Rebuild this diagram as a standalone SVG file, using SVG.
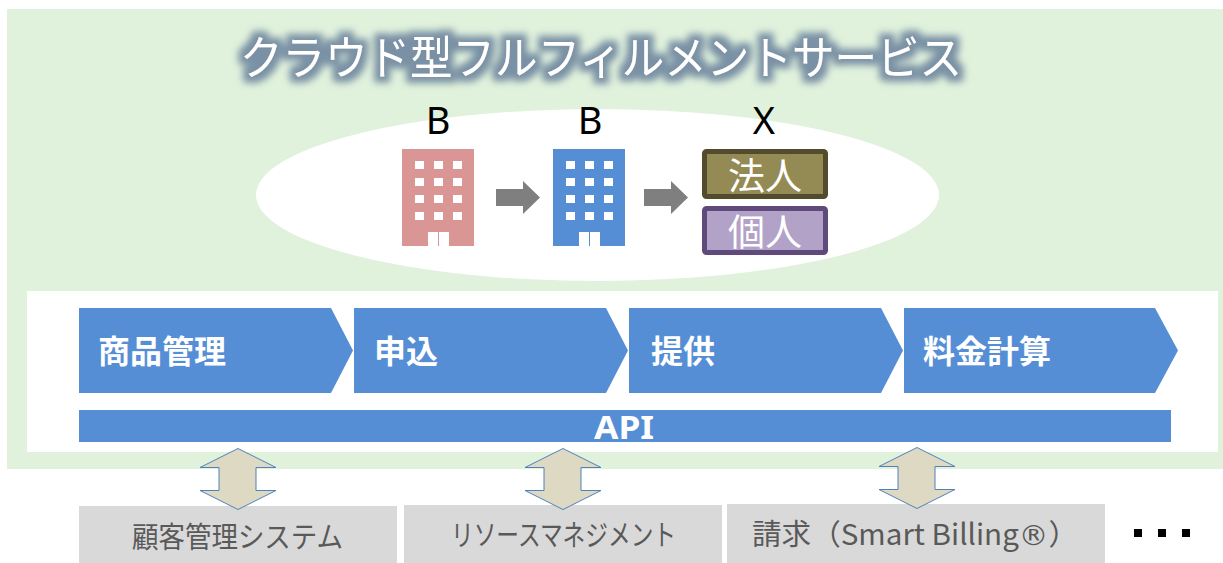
<svg xmlns="http://www.w3.org/2000/svg" width="1223" height="563" viewBox="0 0 1223 563">
<style>
.ja{font-family:"Noto Sans CJK JP","Noto Sans",sans-serif}
.step{fill:#558ed5}
.stept{font-size:32px;font-weight:700;fill:#fff}
.sys{fill:#d9d9d9}
.syst{font-size:29px;fill:#595959}
.letter{font-family:"Noto Sans","Liberation Sans",sans-serif;font-size:38px;fill:#000;text-anchor:middle}
.win{fill:#fff}
.dbl{fill:#ddd9c3;stroke:#4f81bd;stroke-width:1}
.flow{fill:#7f7f7f}
.role{font-size:37px;fill:#fff;text-anchor:middle}
</style>
<defs>
<filter id="glow" x="-5%" y="-40%" width="110%" height="180%">
<feMorphology in="SourceAlpha" operator="dilate" radius="6" result="d"/>
<feGaussianBlur in="d" stdDeviation="3.500" result="b"/>
<feFlood flood-color="#7a91a5" flood-opacity="1"/>
<feComposite in2="b" operator="in" result="g"/>
<feMerge><feMergeNode in="g"/><feMergeNode in="SourceGraphic"/></feMerge>
</filter>
<g id="windows">
<rect class="win" x="13" y="12" width="9" height="8"/><rect class="win" x="32" y="12" width="9" height="8"/><rect class="win" x="51" y="12" width="9" height="8"/>
<rect class="win" x="13" y="29" width="9" height="8"/><rect class="win" x="32" y="29" width="9" height="8"/><rect class="win" x="51" y="29" width="9" height="8"/>
<rect class="win" x="13" y="46" width="9" height="8"/><rect class="win" x="32" y="46" width="9" height="8"/><rect class="win" x="51" y="46" width="9" height="8"/>
<rect class="win" x="13" y="63" width="9" height="8"/><rect class="win" x="32" y="63" width="9" height="8"/><rect class="win" x="51" y="63" width="9" height="8"/>
<rect class="win" x="26" y="83" width="10" height="14"/><rect class="win" x="37" y="83" width="10" height="14"/>
</g>
</defs>
<rect width="1223" height="563" fill="#fff"/>
<g id="background">
<rect x="7" y="9" width="1216" height="460" fill="#e0f1dc"/>
<ellipse cx="597.500" cy="195" rx="341.500" ry="86" fill="#fff"/>
<rect x="27" y="291" width="1191" height="161" fill="#fff"/>
</g>
<g id="title"><text class="ja" x="240" y="74" font-size="46" fill="#fff" textLength="722" lengthAdjust="spacingAndGlyphs" filter="url(#glow)">クラウド型フルフィルメントサービス</text></g>
<g id="b1">
<text class="letter" x="438" y="134">B</text>
<rect x="402" y="149" width="72" height="97" fill="#d99694"/><use href="#windows" x="402" y="149"/>
</g>
<g id="b2">
<text class="letter" x="590" y="134">B</text>
<rect x="553" y="149" width="72" height="97" fill="#558ed5"/><use href="#windows" x="553" y="149"/>
</g>
<g id="x">
<text class="letter" x="764" y="134">X</text>
</g>
<g id="corporate">
<rect x="704.500" y="151.500" width="121" height="45" rx="2" fill="#948a54" stroke="#524b2d" stroke-width="5"/>
<text class="ja role" x="765" y="190">法人</text>
</g>
<g id="individual">
<rect x="704.500" y="208.500" width="121" height="44" rx="2" fill="#b2a2c7" stroke="#604a7b" stroke-width="5"/>
<text class="ja role" x="765" y="246">個人</text>
</g>
<g id="step1"><path class="step" d="M79 308H331L353 350.500L331 393H79Z"/><text class="ja stept" x="98" y="363">商品管理</text></g>
<g id="step2"><path class="step" d="M354 308H606L628 350.500L606 393H354Z"/><text class="ja stept" x="374" y="363">申込</text></g>
<g id="step3"><path class="step" d="M629 308H881L903 350.500L881 393H629Z"/><text class="ja stept" x="651" y="363">提供</text></g>
<g id="step4"><path class="step" d="M904 308H1155L1178 350.500L1155 393H904Z"/><text class="ja stept" x="923" y="363">料金計算</text></g>
<g id="api"><rect class="step" x="79" y="410" width="1092" height="32"/><text x="624" y="439" font-family="'Noto Sans','Liberation Sans',sans-serif" font-size="32" font-weight="700" fill="#fff" text-anchor="middle" textLength="60" lengthAdjust="spacingAndGlyphs">API</text></g>
<g id="sys1"><rect class="sys" x="79" y="506" width="318" height="57"/><text class="ja syst" x="132" y="548" textLength="211" lengthAdjust="spacingAndGlyphs">顧客管理システム</text></g>
<g id="sys2"><rect class="sys" x="404" y="505" width="318" height="58"/><text class="ja syst" x="451" y="546" textLength="225" lengthAdjust="spacingAndGlyphs">リソースマネジメント</text></g>
<g id="sys3"><rect class="sys" x="727" y="504" width="378" height="59"/><text class="ja syst" x="752" y="545" textLength="326" lengthAdjust="spacingAndGlyphs">請求（Smart Billing<tspan font-family="'DejaVu Sans',sans-serif">®</tspan>）</text></g>
<g id="more" fill="#000"><rect x="1134" y="529" width="8" height="8"/><rect x="1158" y="529" width="8" height="8"/><rect x="1182" y="529" width="8" height="8"/></g>
<g id="connectors">
<path class="flow" d="M496 189H523V181L540 197.500L523 214V206H496Z"/>
<path class="flow" d="M644 189H671V181L688 197.500L671 214V206H644Z"/>
<path class="dbl" d="M238 448.500L276 467.500H256V490.500H276L238 509.500L200 490.500H219V467.500H200Z"/>
<path class="dbl" d="M563 448.500L601 467.500H581V490.500H601L563 509.500L525 490.500H544V467.500H525Z"/>
<path class="dbl" d="M917 447.500L955 466.500H935V489.500H955L917 508.500L879 489.500H898V466.500H879Z"/>
</g>
</svg>
